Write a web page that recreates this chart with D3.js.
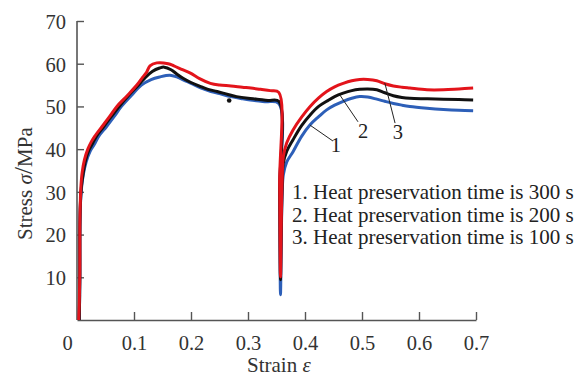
<!DOCTYPE html>
<html><head><meta charset="utf-8">
<script src="https://cdn.jsdelivr.net/npm/d3@7"></script>
<style>
html,body{margin:0;padding:0;background:#fff;}
svg text{font-family:"Liberation Serif","Times New Roman",serif;}
</style></head>
<body><svg id="c" width="576" height="377"></svg>
<script>
// ---- data ----
const xTicks = [0, 0.1, 0.2, 0.3, 0.4, 0.5, 0.6, 0.7];
const yTicks = [10, 20, 30, 40, 50, 60, 70];
const seriesNames = ["1", "2", "3"];
const seriesColors = ["#2d5fb8", "#111111", "#e3141b"];
const legendLabels = [
  "1. Heat preservation time is 300 s",
  "2. Heat preservation time is 200 s",
  "3. Heat preservation time is 100 s"
];
const curve300 = [[0.004,0],[0.005,10],[0.005,20],[0.006,27],[0.008,31],[0.011,34],[0.016,37],[0.023,39.5],[0.03,41],[0.038,43],[0.052,45.3],[0.065,47.6],[0.078,50],[0.095,52.5],[0.113,55],[0.13,56.3],[0.145,56.9],[0.163,57.3],[0.175,56.9],[0.19,56],[0.2,55.4],[0.218,54.3],[0.235,53.5],[0.25,53],[0.27,52.3],[0.29,51.8],[0.304,51.5],[0.33,51.1],[0.354,50.7],[0.3555,30],[0.357,5.9],[0.3585,20],[0.36,30],[0.362,34],[0.368,37],[0.379,39.4],[0.394,43],[0.409,45.7],[0.424,47.6],[0.438,49.2],[0.452,50.3],[0.467,51.2],[0.482,51.9],[0.496,52.3],[0.51,52.2],[0.526,51.7],[0.54,51.2],[0.555,50.7],[0.57,50.3],[0.584,50],[0.614,49.6],[0.643,49.3],[0.67,49.1],[0.695,49]];
const curve200 = [[0.004,0],[0.005,10],[0.005,20],[0.006,27.5],[0.008,31.5],[0.011,34.5],[0.015,37.3],[0.021,39.8],[0.028,41.5],[0.034,43],[0.047,45.3],[0.06,47.6],[0.074,50],[0.09,52.5],[0.108,55],[0.12,56.8],[0.132,58.2],[0.145,59],[0.153,59.2],[0.165,58.6],[0.175,57.6],[0.186,56.6],[0.2,55.6],[0.216,54.7],[0.23,54],[0.246,53.5],[0.265,52.8],[0.28,52.3],[0.3,51.9],[0.316,51.7],[0.335,51.4],[0.354,51.2],[0.3555,30],[0.357,9.4],[0.3585,22],[0.36,31],[0.362,36.7],[0.368,39.5],[0.379,42.2],[0.394,45.5],[0.409,48],[0.424,50],[0.438,51.2],[0.452,52.3],[0.467,53.1],[0.482,53.7],[0.496,54],[0.51,54.1],[0.526,53.9],[0.54,53.2],[0.555,52.5],[0.57,52.1],[0.584,51.9],[0.614,51.8],[0.643,51.7],[0.67,51.6],[0.695,51.5]];
const curve100 = [[0.003,0],[0.004,4],[0.005,12],[0.005,22],[0.006,28.5],[0.007,31.5],[0.009,34.5],[0.013,37.5],[0.019,40],[0.025,41.7],[0.031,43],[0.044,45.3],[0.057,47.6],[0.07,50],[0.088,52.5],[0.105,55],[0.115,56.8],[0.122,58],[0.128,59.5],[0.14,60.2],[0.16,60],[0.17,59.5],[0.185,58.6],[0.199,57.8],[0.215,56.5],[0.234,55.4],[0.25,55],[0.27,54.8],[0.29,54.5],[0.305,54.3],[0.322,54],[0.339,53.7],[0.354,53.3],[0.3555,32],[0.357,10.1],[0.3585,24],[0.36,33],[0.362,38.3],[0.368,41.5],[0.379,44.5],[0.394,47.5],[0.409,50],[0.424,52],[0.438,53.5],[0.452,54.6],[0.467,55.4],[0.482,56],[0.496,56.3],[0.51,56.3],[0.526,56],[0.54,55.3],[0.555,54.8],[0.57,54.5],[0.584,54.3],[0.614,53.9],[0.643,53.9],[0.67,54.1],[0.695,54.3]];
const outliers = [[0.267,51.4]];
// leader lines: [from strain, from stress, to strain, to stress, label strain, label stress]
const leaders = [[0.409,45.6,0.449,41.9,0.454,39.4],[0.461,52.7,0.493,46.4,0.502,42.6],[0.54,55.5,0.558,46.1,0.563,42.4]];

// ---- chart ----
const svg = d3.select("#c");
const x = d3.scaleLinear().domain([0,0.7]).range([77,476]);
const y = d3.scaleLinear().domain([0,70]).range([320,21]);
const axisColor = "#555";

const gx = svg.append("g").attr("transform","translate(0,320)")
  .call(d3.axisBottom(x).tickValues(xTicks).tickSizeInner(-8).tickSizeOuter(0).tickPadding(15)
    .tickFormat(d => d===0 ? "0" : d3.format(".1f")(d)));
const gy = svg.append("g").attr("transform","translate(77,0)")
  .call(d3.axisLeft(y).tickValues(yTicks).tickSizeInner(-7).tickSizeOuter(0).tickPadding(11));
[gx,gy].forEach(g=>{
  g.select(".domain").attr("stroke",axisColor).attr("stroke-width",1.6);
  g.selectAll(".tick line").attr("stroke",axisColor).attr("stroke-width",1.4);
  g.selectAll(".tick text").attr("fill","#333").style("font-size","20.5px")
   .style("font-family","'Liberation Serif',serif");
});
gy.select(".domain").attr("d","M0,320V21");
gx.selectAll(".tick").filter(d=>d===0).select("line").remove();
gx.selectAll(".tick").filter(d=>d===0).select("text").attr("x",-10);
gy.selectAll(".tick text").attr("dy","0.36em");

const line = d3.line().x(d=>x(d[0])).y(d=>y(d[1])).curve(d3.curveCatmullRom.alpha(0.5));
const curves = [curve300, curve200, curve100];
curves.forEach((c,i)=>{
  svg.append("path").datum(c).attr("d",line).attr("fill","none")
    .attr("stroke",seriesColors[i]).attr("stroke-width",3)
    .attr("stroke-linejoin","round");
});
svg.selectAll("circle.o").data(outliers).join("circle").attr("class","o")
  .attr("cx",d=>x(d[0])).attr("cy",d=>y(d[1])).attr("r",2.3).attr("fill","#111");

leaders.forEach((l,i)=>{
  svg.append("line").attr("x1",x(l[0])).attr("y1",y(l[1])).attr("x2",x(l[2])).attr("y2",y(l[3]))
    .attr("stroke","#222").attr("stroke-width",1);
  svg.append("text").attr("x",x(l[4])).attr("y",y(l[5])).attr("text-anchor","middle")
    .style("font-size","20.5px").attr("fill","#222").text(seriesNames[i]);
});

const leg = svg.append("g");
legendLabels.forEach((t,i)=>{
  leg.append("text").attr("x",292).attr("y",199+i*22.5).style("font-size","21px")
    .attr("fill","#222").text(t);
});

// axis titles
const xt = svg.append("text").attr("x",247).attr("y",372).style("font-size","21px").attr("fill","#333");
xt.append("tspan").text("Strain ");
xt.append("tspan").style("font-style","italic").text("ε");
const yt = svg.append("text").attr("transform","translate(32,240) rotate(-90)")
  .style("font-size","21px").attr("fill","#333");
yt.append("tspan").text("Stress ");
yt.append("tspan").style("font-style","italic").text("σ");
yt.append("tspan").style("font-size","26px").text("/");
yt.append("tspan").text("MPa");
</script></body></html>
